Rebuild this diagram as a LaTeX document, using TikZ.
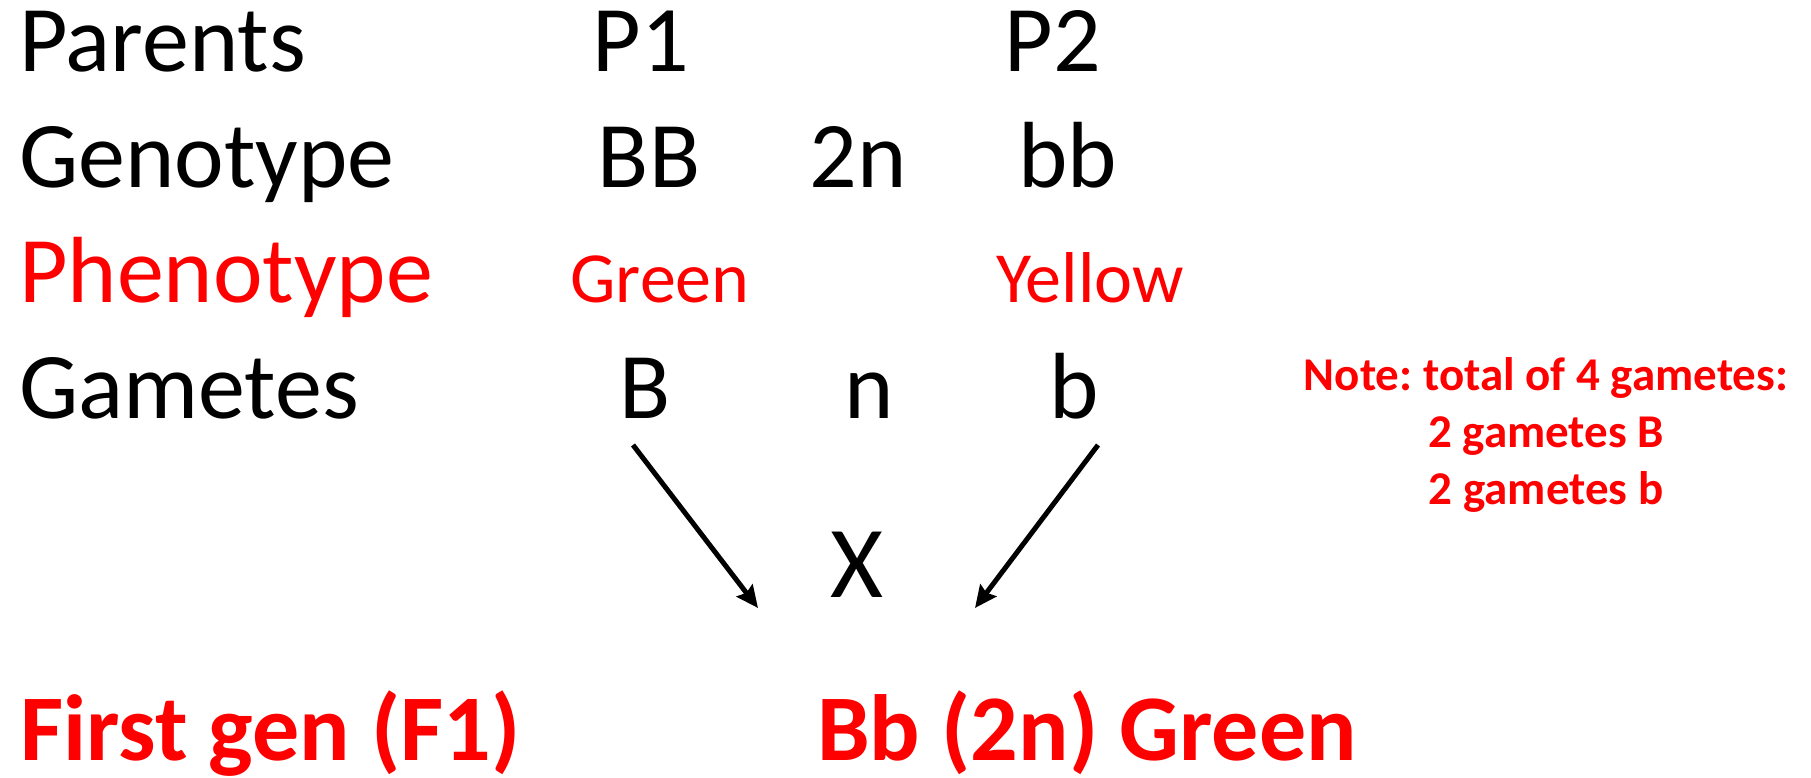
\documentclass[tikz,border=0pt]{standalone}
\usepackage{fontspec}
\setmainfont{Carlito}
\frenchspacing
\usetikzlibrary{arrows.meta}
\tikzset{
  big/.style={inner sep=0pt,font=\fontsize{94}{113}\selectfont},
  small/.style={inner sep=0pt,font=\fontsize{72}{86}\selectfont},
  crossarrow/.style={line width=5pt,-{Stealth[length=22pt,width=20pt,inset=3pt]}}
}
\begin{document}
\begin{tikzpicture}[x=1pt,y=1pt]
    \useasboundingbox (0,0) rectangle (1811,777);

    % Row labels
    \node[big,anchor=base west] (parents) at (19,705) {Parents};
    \node[big,anchor=base west] (genotype) at (19,589) {Genotype};
    \node[big,anchor=base west,red] (phenotype) at (19,474) {Phenotype};
    \node[big,anchor=base west] (gametes) at (19,358) {Gametes};

    % Parents
    \node[big,anchor=base] (p1) at (641,705) {P1};
    \node[big,anchor=base] (p2) at (1053,705) {P2};

    % Genotypes
    \node[big,anchor=base] (gBB) at (649,589) {BB};
    \node[big,anchor=base] (g2n) at (858,589) {2n};
    \node[big,anchor=base] (gbb) at (1068,589) {bb};

    % Phenotypes
    \node[small,anchor=base,red] (green) at (660,474) {Green};
    \node[small,anchor=base,red] (yellow) at (1090,474) {Yellow};

    % Gametes
    \node[big,anchor=base] (gB) at (645,358) {B};
    \node[big,anchor=base] (gn) at (869,358) {n};
    \node[big,anchor=base] (gb) at (1074,358) {b};

    % Note
    \node[inner sep=0pt,anchor=base,align=center,red,
          font=\fontsize{47}{56.5}\selectfont\bfseries] (note) at (1546,273)
          {Note: total of 4 gametes:\\2 gametes B\\2 gametes b};

    % Cross
    \coordinate (lstart) at (633,332);
    \coordinate (lend) at (758,169);
    \coordinate (rstart) at (1098,332);
    \coordinate (rend) at (975,169);
    \draw[crossarrow] (lstart) -- (lend);
    \draw[crossarrow] (rstart) -- (rend);
    \node[inner sep=0pt,anchor=base,font=\fontsize{102}{122}\selectfont] (cross) at (857,180) {X};

    % F1
    \node[big,anchor=base west,red,font=\fontsize{94}{113}\selectfont\bfseries] (first) at (20,17) {First gen (F1)};
    \node[big,anchor=base west,red,font=\fontsize{94}{113}\selectfont\bfseries] (f1) at (817,17) {Bb (2n) Green};
\end{tikzpicture}
\end{document}
